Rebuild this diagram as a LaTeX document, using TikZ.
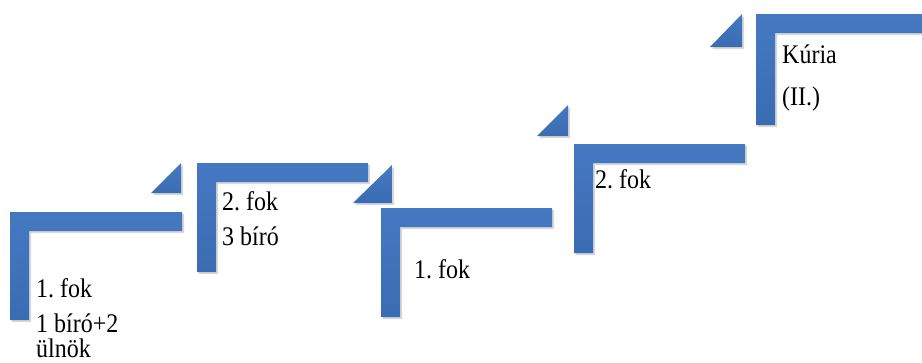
\documentclass[tikz,border=0pt]{standalone}
\usepackage{fontspec}
\usepackage{graphicx}
\setmainfont{Liberation Serif}
\frenchspacing
\definecolor{stairtop}{HTML}{4479C1}
\definecolor{stairbot}{HTML}{3A6CB2}
\tikzset{
  stairfill/.style={top color=stairtop, bottom color=stairbot, draw=none},
  stairshadow/.style={fill=black!35, opacity=0.45, draw=none},
  lbl/.style={anchor=base west, inner sep=0pt, font=\fontsize{24}{25}\selectfont, text=black}
}
\newcommand\stxt[1]{\scalebox{1}[1.12]{#1}}
\newcommand\stairL[4]{%
  \fill[stairshadow] ({#1+2},{#2+2}) -- ({#3+2},{#2+2}) -- ({#3+2},{#2+21}) -- ({#1+21},{#2+21}) -- ({#1+21},{#4+2}) -- ({#1+2},{#4+2}) -- cycle;
  \path[stairfill] (#1,#2) -- (#3,#2) -- (#3,{#2+19}) -- ({#1+19},{#2+19}) -- ({#1+19},#4) -- (#1,#4) -- cycle;}
\newcommand\stairT[4]{%
  \fill[stairshadow] ({#1+2},{#4+2}) -- ({#3+2},{#4+2}) -- ({#3+2},{#2+2}) -- cycle;
  \path[stairfill] (#1,#4) -- (#3,#4) -- (#3,#2) -- cycle;}
\begin{document}
\begin{tikzpicture}[x=1pt,y=-1pt]
\useasboundingbox (0,0) rectangle (922,362);
% steps
\stairL{10}{212}{182}{320}
\stairT{151}{163}{181}{193}
\stairL{197}{163}{368}{272}
\stairT{353}{165}{392}{203}
\stairL{381}{208}{552}{317}
\stairT{537}{105}{568}{136}
\stairL{574}{144}{745}{253}
\stairT{710}{14}{742}{47}
\stairL{756}{14}{922}{125}
% labels
\node[lbl] (s1a) at (36,297) {\stxt{1. fok}};
\node[lbl] (s1b) at (36,332) {\stxt{1 bíró+2}};
\node[lbl] (s1c) at (36,357) {\stxt{ülnök}};
\node[lbl] (s2a) at (222,210) {\stxt{2. fok}};
\node[lbl] (s2b) at (222,245) {\stxt{3 bíró}};
\node[lbl] (s3a) at (414,278) {\stxt{1. fok}};
\node[lbl] (s4a) at (595,188) {\stxt{2. fok}};
\node[lbl] (s5a) at (782,63) {\stxt{Kúria}};
\node[lbl] (s5b) at (782,105) {\stxt{(II.)}};
\end{tikzpicture}
\end{document}
